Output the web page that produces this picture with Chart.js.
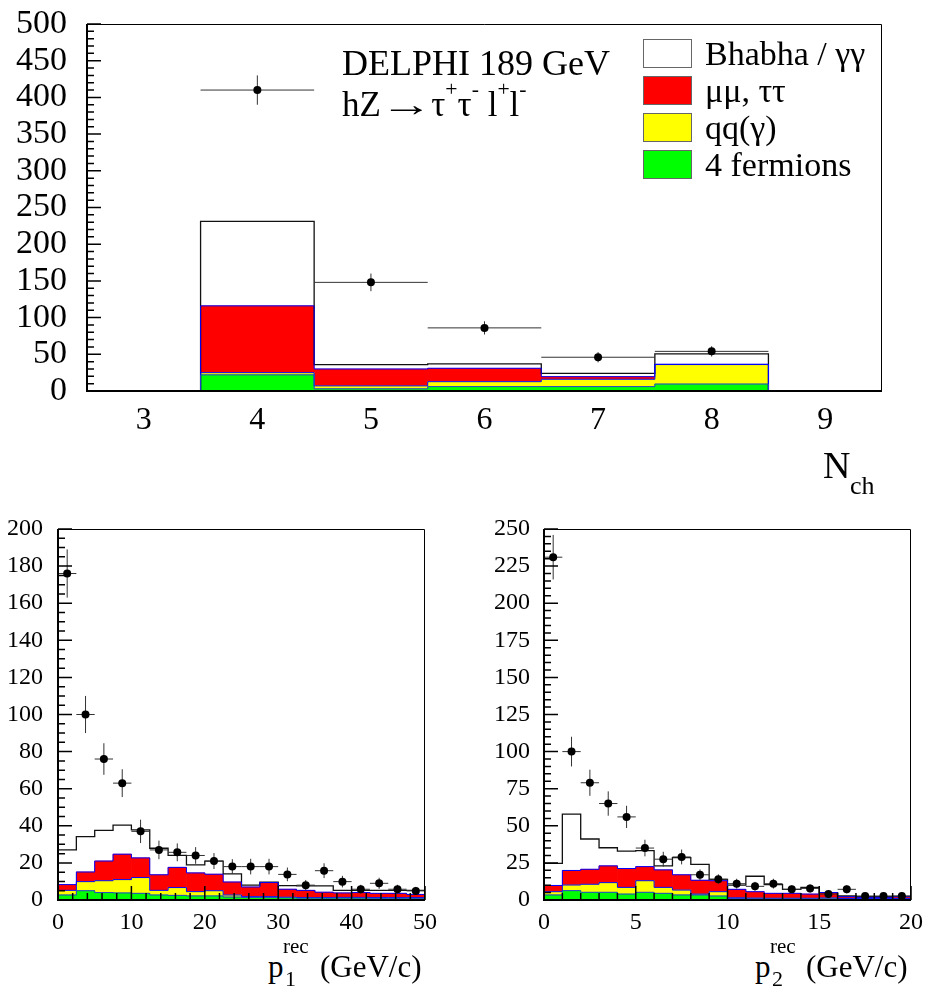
<!DOCTYPE html>
<html>
<head>
<meta charset="utf-8">
<title>DELPHI 189 GeV hZ → τ+τ- l+l-</title>
<script src="https://cdn.jsdelivr.net/npm/chart.js@4.4.1/dist/chart.umd.min.js"></script>
<style>
  html, body { margin: 0; padding: 0; background: #fff; }
  body { position: relative; width: 925px; height: 989px; overflow: hidden;
         font-family: "Liberation Serif", "Times New Roman", serif; color: #000; }
  canvas { position: absolute; }
  .txt { position: absolute; line-height: 0; white-space: nowrap; }
  .up { position: relative; top: -0.95em; font-size: 0.62em; }
  .arrow { display: inline-block; transform: scaleX(1.5); margin: 0 0.22em; }
  .swatch { position: absolute; box-sizing: border-box; width: 49px; height: 29px; border: 1px solid #666; }
</style>
</head>
<body>
<canvas id="nchChart" width="925" height="445" style="left:0;top:0"></canvas>
<canvas id="p1Chart" width="460" height="440" style="left:0;top:500px"></canvas>
<canvas id="p2Chart" width="455" height="440" style="left:470px;top:500px"></canvas>
<script>
// Stacked background histograms + data, DELPHI 189 GeV, hZ -> tau tau l l
const FONT = '"Liberation Serif", "Times New Roman", serif';

// process names / colours, stacked bottom -> top
const processNames = ['4 fermions', 'qq(γ)', 'μμ, ττ', 'Bhabha / γγ'];
const processFill = ['#00ff00', '#ffff00', '#ff0000', '#ffffff'];
const processEdge = ['#2a3fd0', '#0000ff', '#0000ff', '#111111'];

// Panel 1: charged multiplicity
const nchBins = [3, 4, 5, 6, 7, 8, 9];
const nchFourFermion = [0, 22, 3, 6, 6, 9.5, 0];
const nchQQ = [0, 3, 4, 6.7, 10, 26.5, 0];
const nchMuTau = [0, 91, 23, 18.3, 3.5, 0.5, 0];
const nchBhabha = [0, 115, 6, 6, 4.5, 14, 0];
const nchData = [null, 410, 148, 86, 46, 54, null];
const nchErr = [null, 20, 12, 9, 7, 7, null];
const nchXTicks = [3, 4, 5, 6, 7, 8, 9];
const nchYTicks = [0, 50, 100, 150, 200, 250, 300, 350, 400, 450, 500];

// Panel 2: p1 rec (GeV/c), 2.5 GeV bins
const p1Bins = [1.25, 3.75, 6.25, 8.75, 11.25, 13.75, 16.25, 18.75, 21.25, 23.75,
                26.25, 28.75, 31.25, 33.75, 36.25, 38.75, 41.25, 43.75, 46.25, 48.75];
const p1FourFermion = [2.7, 5, 4, 3.8, 3.6, 2.7, 2.5, 2.2, 2.2, 1.6, 1.4, 1.3, 1.2, 1, 1, 1, 1, 0.9, 0.9, 0.9];
const p1QQ = [2.5, 4.9, 6.4, 7.2, 8.5, 2.5, 4.2, 2.3, 2.8, 1.1, 0.4, 0.5, 0.3, 0.3, 0.3, 0.4, 0.4, 0.4, 0.4, 0.4];
const p1MuTau = [3.1, 5.2, 10.6, 13.7, 10.6, 8.4, 10.9, 10.1, 8.9, 7, 5.2, 7.6, 4.3, 3.9, 2.9, 2.4, 2.6, 2.3, 2.3, 1.7];
const p1Bhabha = [18.7, 19.1, 16.5, 15.7, 15.1, 14.3, 6.5, 4.3, 7.1, 4.4, 1, 0.2, 2, 2.4, 3.4, 1.4, 1.2, 1.6, 1.6, 2.2];
const p1Data = [176, 100, 76, 63, 37, 27, 25.7, 24, 21, 18, 18, 18, 13.8, 8, 15.8, 9.9, 5.8, 9, 5.8, 4.9];
const p1Err = [13, 10, 8.5, 7.5, 6.3, 5, 4.8, 4.5, 4.3, 4, 4.2, 4.2, 3.7, 2.8, 4, 3.1, 2.4, 3, 2.4, 2.2];
const p1XTicks = [0, 10, 20, 30, 40, 50];
const p1YTicks = [0, 20, 40, 60, 80, 100, 120, 140, 160, 180, 200];

// Panel 3: p2 rec (GeV/c), 1 GeV bins
const p2Bins = [0.5, 1.5, 2.5, 3.5, 4.5, 5.5, 6.5, 7.5, 8.5, 9.5,
                10.5, 11.5, 12.5, 13.5, 14.5, 15.5, 16.5, 17.5, 18.5, 19.5];
const p2FourFermion = [3.4, 6.3, 5.2, 5.2, 4, 5.2, 4.5, 3.4, 3.4, 2.7, 1, 0.9, 0.8, 0.8, 0.8, 0.8, 0.6, 0.6, 0.6, 0.6];
const p2QQ = [2.2, 3.8, 5.4, 6.5, 4.5, 7.8, 4, 3.3, 0.6, 2.9, 0.5, 0.4, 0.4, 0.4, 0.4, 0.6, 0.4, 0.4, 0.4, 0.4];
const p2MuTau = [4.2, 9.8, 10.1, 11.3, 12.7, 9.5, 11.8, 10.3, 9.3, 7.4, 5.7, 4.3, 3.3, 3.3, 2.8, 3.6, 1.2, 0.8, 0.8, 1.2];
const p2Bhabha = [14.9, 37.9, 20.4, 12.2, 11.8, 10.8, 2.7, 11.5, 10.7, 0.9, 2.8, 10.4, 5.8, 2.7, 4.5, 0, 0.5, 0.4, 0.4, 0.2];
const p2Data = [231, 100, 79, 65, 56, 35, 27.5, 29, 17, 14, 11, 9.2, 11, 7.2, 7.8, 4, 7.2, 2.7, 2.7, 2.7];
const p2Err = [15, 10, 8.8, 8.2, 7.5, 5.6, 5, 5, 3.6, 3.3, 3.3, 3, 3.3, 2.7, 2.8, 2, 2.7, 1.6, 1.6, 1.6];
const p2XTicks = [0, 5, 10, 15, 20];
const p2YTicks = [0, 25, 50, 75, 100, 125, 150, 175, 200, 225, 250];

// error bars, frame and inward ROOT-like tick marks
const rootStyle = {
    id: 'rootStyle',
    beforeDatasetDraw(chart, args) {
        const ds = chart.data.datasets[args.index];
        if (!ds.isData) return;
        const ctx = chart.ctx, xs = chart.scales.x, ys = chart.scales.y;
        ctx.save();
        ctx.strokeStyle = '#333';
        ctx.lineWidth = 1;
        ctx.beginPath();
        ds.data.forEach(d => {
            const px = xs.getPixelForValue(d.x), py = ys.getPixelForValue(d.y);
            ctx.moveTo(xs.getPixelForValue(d.x - ds.halfWidth), py);
            ctx.lineTo(xs.getPixelForValue(d.x + ds.halfWidth), py);
            ctx.moveTo(px, ys.getPixelForValue(d.y - d.e));
            ctx.lineTo(px, ys.getPixelForValue(d.y + d.e));
        });
        ctx.stroke();
        ctx.restore();
    },
    afterDatasetsDraw(chart, args, opts) {
        const ctx = chart.ctx, a = chart.chartArea;
        ctx.save();
        ctx.strokeStyle = '#000';
        ctx.lineWidth = 1.5;
        const marks = (scale, spec, draw) => {
            if (!spec) return;
            const n = Math.round((scale.max - scale.min) / spec.minor);
            for (let k = 0; k <= n; k++) {
                const v = scale.min + k * spec.minor;
                const r = v / spec.major;
                const len = Math.abs(r - Math.round(r)) < 1e-6 ? 14 : 7;
                draw(scale.getPixelForValue(v), len);
            }
        };
        ctx.beginPath();
        marks(chart.scales.y, opts.y, (p, len) => { ctx.moveTo(a.left, p); ctx.lineTo(a.left + len, p); });
        marks(chart.scales.x, opts.x, (p, len) => { ctx.moveTo(p, a.bottom); ctx.lineTo(p, a.bottom - len); });
        ctx.stroke();
        // frame
        ctx.lineWidth = 1;
        ctx.beginPath();
        ctx.moveTo(a.left, a.top + 0.5); ctx.lineTo(a.right - 0.5, a.top + 0.5);
        ctx.lineTo(a.right - 0.5, a.bottom);
        ctx.stroke();
        ctx.lineWidth = 2;
        ctx.beginPath();
        ctx.moveTo(a.left, a.top); ctx.lineTo(a.left, a.bottom);
        ctx.lineTo(a.right, a.bottom);
        ctx.stroke();
        ctx.restore();
    }
};

function histogram(canvasId, p) {
    const n = p.bins.length;
    const half = p.width / 2;
    let running = new Array(n).fill(0);
    const tops = p.layers.map(values => {
        running = running.map((r, i) => r + values[i]);
        return running;
    });

    const datasets = [];
    tops.forEach((top, k) => {
        datasets.push({
            type: 'bar',
            label: processNames[k],
            data: p.bins.map((c, i) => ({ x: c, y: top[i] })),
            backgroundColor: processFill[k],
            borderWidth: 0,
            grouped: false,
            categoryPercentage: 1,
            barPercentage: 1,
            order: 10 + k
        });
        const steps = p.bins.map((c, i) => ({ x: c - half, y: top[i] }));
        steps.push({ x: p.bins[n - 1] + half, y: top[n - 1] });
        datasets.push({
            type: 'line',
            data: steps,
            stepped: true,
            borderColor: processEdge[k],
            borderWidth: k === 3 ? 1.3 : 1,
            pointRadius: 0,
            fill: false,
            order: 5
        });
    });

    const pts = [];
    p.data.forEach((v, i) => { if (v !== null) pts.push({ x: p.bins[i], y: v, e: p.err[i] }); });
    datasets.push({
        type: 'line',
        isData: true,
        halfWidth: half,
        data: pts,
        showLine: false,
        pointRadius: 4,
        pointBorderWidth: 0,
        pointBackgroundColor: '#000',
        order: 0
    });

    return new Chart(document.getElementById(canvasId), {
        type: 'bar',
        data: { datasets: datasets },
        plugins: [rootStyle],
        options: {
            responsive: false,
            animation: false,
            events: [],
            layout: { padding: p.padding },
            plugins: {
                legend: { display: false },
                tooltip: { enabled: false },
                rootStyle: { x: p.xMarks, y: p.yMarks }
            },
            scales: {
                x: {
                    type: 'linear',
                    min: p.xMin, max: p.xMax,
                    offset: false,
                    grid: { display: false, drawTicks: false, offset: false },
                    border: { display: false },
                    afterBuildTicks: s => { s.ticks = p.xTicks.map(v => ({ value: v })); },
                    afterFit: s => { s.height = p.xHeight; s.paddingLeft = 0; s.paddingRight = 0; },
                    ticks: { color: '#000', font: { family: FONT, size: p.xFont }, padding: p.xPad,
                             maxRotation: 0, autoSkip: false }
                },
                y: {
                    type: 'linear',
                    min: p.yTicks[0], max: p.yTicks[p.yTicks.length - 1],
                    grid: { display: false, drawTicks: false },
                    border: { display: false },
                    afterBuildTicks: s => { s.ticks = p.yTicks.map(v => ({ value: v })); },
                    afterFit: s => { s.width = p.yWidth; s.paddingTop = 0; s.paddingBottom = 0; },
                    ticks: { color: '#000', font: { family: FONT, size: p.yFont }, padding: p.yPad,
                             autoSkip: false }
                }
            }
        }
    });
}

histogram('nchChart', {
    bins: nchBins, width: 1, xMin: 2.5, xMax: 9.5,
    layers: [nchFourFermion, nchQQ, nchMuTau, nchBhabha],
    data: nchData, err: nchErr,
    xTicks: nchXTicks, yTicks: nchYTicks,
    xMarks: null, yMarks: { major: 50, minor: 10 },
    padding: { top: 24, right: 43, left: 0, bottom: 0 },
    yWidth: 87, xHeight: 54, yFont: 34, xFont: 32, yPad: 20, xPad: 10
});

histogram('p1Chart', {
    bins: p1Bins, width: 2.5, xMin: 0, xMax: 50,
    layers: [p1FourFermion, p1QQ, p1MuTau, p1Bhabha],
    data: p1Data, err: p1Err,
    xTicks: p1XTicks, yTicks: p1YTicks,
    xMarks: { major: 10, minor: 2 }, yMarks: { major: 20, minor: 5 },
    padding: { top: 29, right: 35, left: 0, bottom: 0 },
    yWidth: 58, xHeight: 40, yFont: 24, xFont: 24, yPad: 15, xPad: 8
});

histogram('p2Chart', {
    bins: p2Bins, width: 1, xMin: 0, xMax: 20,
    layers: [p2FourFermion, p2QQ, p2MuTau, p2Bhabha],
    data: p2Data, err: p2Err,
    xTicks: p2XTicks, yTicks: p2YTicks,
    xMarks: { major: 5, minor: 1 }, yMarks: { major: 25, minor: 5 },
    padding: { top: 29, right: 14, left: 0, bottom: 0 },
    yWidth: 74, xHeight: 40, yFont: 24, xFont: 24, yPad: 14, xPad: 8
});

// text placed by baseline (Liberation Serif: (ascent - descent) / 2 = 0.3375 em)
function addText(html, x, baseline, size) {
    const el = document.createElement('div');
    el.className = 'txt';
    el.style.left = x + 'px';
    el.style.top = (baseline - 0.3375 * size) + 'px';
    el.style.fontSize = size + 'px';
    el.innerHTML = html;
    document.body.appendChild(el);
}

addText('DELPHI 189 GeV', 342, 75, 36);
addText('hZ<span class="arrow">→</span>τ<span class="up">+</span>τ<span class="up">-</span> l<span class="up">+</span>l<span class="up">-</span>', 342, 117, 35);

// legend, top entry = last stacked process
for (let k = 0; k < 4; k++) {
    const idx = 3 - k;
    const sw = document.createElement('div');
    sw.className = 'swatch';
    sw.style.left = '643px';
    sw.style.top = (39 + 37 * k) + 'px';
    sw.style.background = processFill[idx];
    document.body.appendChild(sw);
    addText(processNames[idx], 705, 65 + 37 * k, 34);
}

addText('N', 823, 478, 38);
addText('ch', 850, 495, 26);

addText('p', 268, 977, 31);
addText('rec', 283, 953, 21);
addText('1', 285, 986, 22);
addText('(GeV/c)', 320, 977, 31);

addText('p', 755, 977, 31);
addText('rec', 770, 953, 21);
addText('2', 772, 986, 22);
addText('(GeV/c)', 806, 977, 31);
</script>
</body>
</html>
